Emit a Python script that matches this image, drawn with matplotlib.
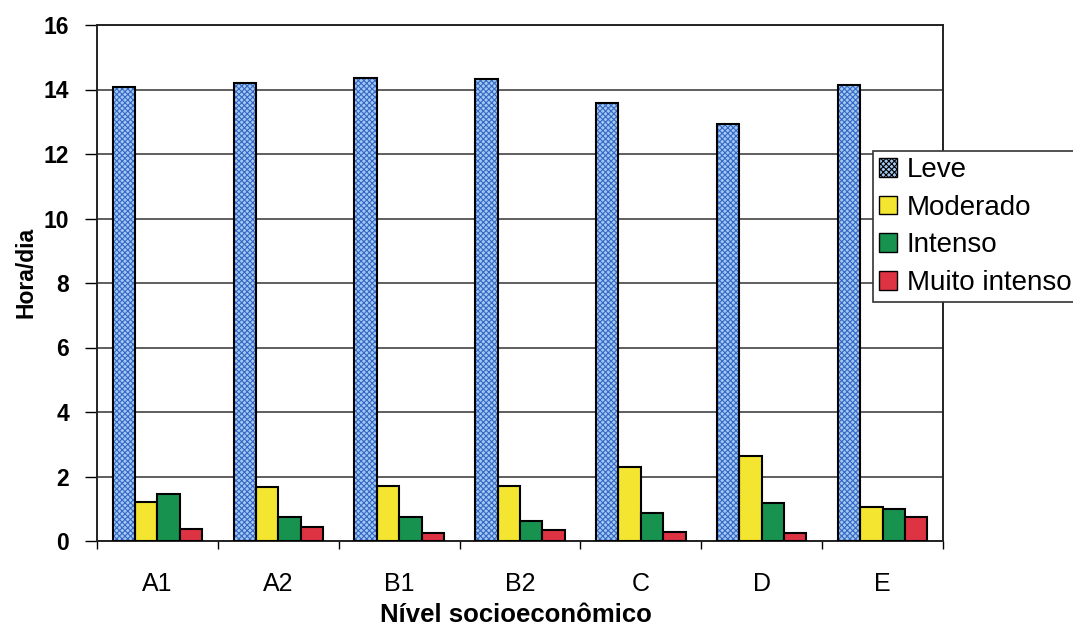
import numpy as np
import matplotlib.pyplot as plt

niveis = ["A1", "A2", "B1", "B2", "C", "D", "E"]
leve = [14.08, 14.20, 14.36, 14.33, 13.58, 12.93, 14.15]
moderado = [1.21, 1.68, 1.71, 1.71, 2.30, 2.65, 1.06]
intenso = [1.46, 0.75, 0.75, 0.62, 0.87, 1.18, 1.00]
muito_intenso = [0.37, 0.44, 0.25, 0.34, 0.28, 0.25, 0.75]

plt.rcParams['font.family'] = ['Liberation Sans', 'DejaVu Sans']
plt.rcParams['hatch.linewidth'] = 0.8

fig = plt.figure(figsize=(10.73, 6.27), dpi=100)
ax = fig.add_axes([97/1073, 1-541/627, 846/1073, 516/627])

x = np.arange(len(niveis))
w = 0.185
azul = "#a2c8f2"
azul_trama = "#3568c4"

# Leve: light blue with dotted pattern, outline drawn on top
ax.bar(x - 1.5*w, leve, w, color=azul, edgecolor=azul_trama, hatch="xxxxxx",
       linewidth=0, zorder=3)
ax.bar(x - 1.5*w, leve, w, fill=False, edgecolor="black", linewidth=1.5, zorder=4)
ax.bar(x - 0.5*w, moderado, w, color="#f4e531", edgecolor="black", linewidth=1.5, zorder=3)
ax.bar(x + 0.5*w, intenso, w, color="#17924f", edgecolor="black", linewidth=1.5, zorder=3)
ax.bar(x + 1.5*w, muito_intenso, w, color="#de3342", edgecolor="black", linewidth=1.5, zorder=3)

ax.set_xlim(-0.5, len(niveis) - 0.5)
ax.set_ylim(0, 16)
ax.set_yticks(np.arange(0, 17, 2))
ax.yaxis.grid(True, color="#333333", linewidth=1.1, zorder=0)
ax.set_axisbelow(True)

# category boundaries get the ticks, labels sit in the middle
ax.set_xticks(np.arange(-0.5, len(niveis), 1.0))
ax.set_xticklabels([])
ax.set_xticks(x, minor=True)
ax.set_xticklabels(niveis, minor=True, fontsize=18)
ax.tick_params(axis="x", which="major", length=6, width=1, direction="out")
ax.tick_params(axis="x", which="minor", length=0, pad=22)
ax.tick_params(axis="y", length=9, width=1, direction="out", labelsize=16.5, pad=11)
for lab in ax.get_yticklabels():
    lab.set_fontweight("bold")

for s in ax.spines.values():
    s.set_linewidth(1.4)
    s.set_color("#222222")

ax.set_ylabel("Hora/dia", fontsize=16.5, fontweight="bold", va="center")
ax.yaxis.set_label_coords(-0.084, 0.52)
ax.set_xlabel("Nível socioeconômico", fontsize=18.5, fontweight="bold", va="center")
ax.xaxis.set_label_coords(0.495, -0.143)

handles = [
    plt.Rectangle((0, 0), 1, 1, facecolor=azul, edgecolor="black", hatch="xxxxxx"),
    plt.Rectangle((0, 0), 1, 1, facecolor="#f4e531", edgecolor="black"),
    plt.Rectangle((0, 0), 1, 1, facecolor="#17924f", edgecolor="black"),
    plt.Rectangle((0, 0), 1, 1, facecolor="#de3342", edgecolor="black"),
]
leg = fig.legend(handles, ["Leve", "Moderado", "Intenso", "Muito intenso"],
                 loc="upper left", bbox_to_anchor=(873/1073, 1-151/627),
                 fontsize=20, frameon=True, fancybox=False, framealpha=1,
                 edgecolor="#333333", handlelength=0.65, handleheight=0.65,
                 handletextpad=0.35, labelspacing=0.42, borderpad=0.22,
                 borderaxespad=0)
leg.get_frame().set_linewidth(1.2)

fig.savefig("out.png", dpi=100)
